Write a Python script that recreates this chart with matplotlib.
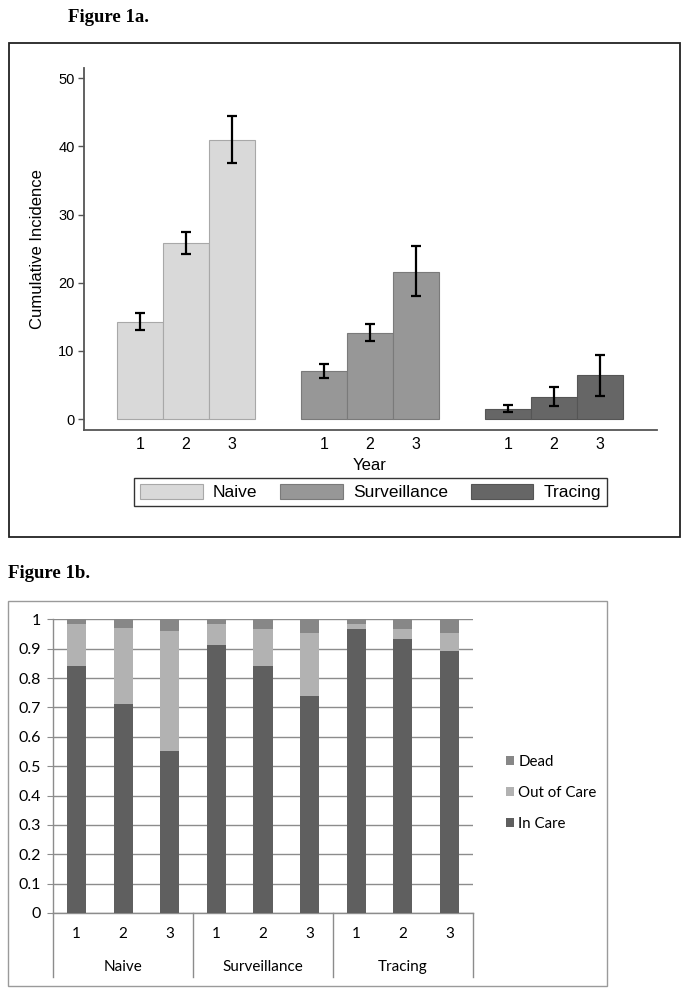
import matplotlib.pyplot as plt
import matplotlib.transforms as mtransforms
from matplotlib.patches import Rectangle, Patch
import numpy as np

# ---- Figure 1a data ----
groups = ['Naive', 'Surveillance', 'Tracing']
years = ['1', '2', '3']
incidence = {
    'Naive': [14.2, 25.9, 41.0],
    'Surveillance': [7.1, 12.65, 21.6],
    'Tracing': [1.42, 3.27, 6.4],
}
ci_low = {
    'Naive': [13.0, 24.2, 37.5],
    'Surveillance': [6.1, 11.5, 18.1],
    'Tracing': [1.0, 1.95, 3.4],
}
ci_high = {
    'Naive': [15.6, 27.5, 44.4],
    'Surveillance': [8.1, 13.9, 25.4],
    'Tracing': [2.0, 4.7, 9.4],
}
colors_a = {'Naive': '#d9d9d9', 'Surveillance': '#979797', 'Tracing': '#666666'}
edges_a = {'Naive': '#a8a8a8', 'Surveillance': '#7a7a7a', 'Tracing': '#555555'}

# ---- Figure 1b data ----
in_care = [0.84, 0.711, 0.55, 0.9125, 0.84, 0.739, 0.968, 0.933, 0.891]
out_of_care = [0.145, 0.261, 0.411, 0.0715, 0.127, 0.216, 0.017, 0.033, 0.064]
dead = [1 - a - b for a, b in zip(in_care, out_of_care)]
colors_b = {'In Care': '#5f5f5f', 'Out of Care': '#b2b2b2', 'Dead': '#878787'}

W, H = 689, 994
fig = plt.figure(figsize=(W / 100, H / 100), dpi=100)


def fx(px):
    return px / W


def fy(py):
    return 1 - py / H


# titles
fig.text(fx(68), fy(18), 'Figure 1a.', family='Liberation Serif', weight='bold',
         fontsize=13.5, va='center', ha='left')
fig.text(fx(8), fy(573), 'Figure 1b.', family='Liberation Serif', weight='bold',
         fontsize=13.5, va='center', ha='left')

# frames
fig.patches.append(Rectangle((fx(9), fy(537)), fx(680) - fx(9), fy(43) - fy(537),
                             transform=fig.transFigure, fill=False,
                             edgecolor='#222222', linewidth=1.3))
fig.patches.append(Rectangle((fx(8), fy(986)), fx(607) - fx(8), fy(601) - fy(986),
                             transform=fig.transFigure, fill=False,
                             edgecolor='#9a9a9a', linewidth=1.0))

# ================= Figure 1a =================
ax1 = fig.add_axes([fx(84), fy(430), fx(657) - fx(84), fy(68) - fy(430)])
ax1.set_xlim(-2.217, 10.24)
ax1.set_ylim(-1.6, 51.5)
ax1.spines['top'].set_visible(False)
ax1.spines['right'].set_visible(False)
for s in ['left', 'bottom']:
    ax1.spines[s].set_color('#555555')
    ax1.spines[s].set_linewidth(1.3)

xt = []
xl = []
for g, name in enumerate(groups):
    pos = np.arange(3) + g * 4 - 1
    vals = np.array(incidence[name])
    lo = vals - np.array(ci_low[name])
    hi = np.array(ci_high[name]) - vals
    ax1.bar(pos, vals, width=1.0, color=colors_a[name], edgecolor=edges_a[name],
            linewidth=0.8, label=name)
    ax1.errorbar(pos, vals, yerr=[lo, hi], fmt='none', ecolor='black',
                 elinewidth=1.6, capsize=3.8, capthick=1.6)
    xt.extend(pos)
    xl.extend(years)

ax1.set_xticks(xt)
ax1.set_xticklabels(xl, family='Liberation Sans', fontsize=11.5)
ax1.tick_params(axis='x', length=0, pad=5)
ax1.set_yticks([0, 10, 20, 30, 40, 50])
ax1.set_yticklabels(['0', '10', '20', '30', '40', '50'], family='Liberation Sans', fontsize=10.5)
ax1.tick_params(axis='y', length=4.3, width=1.0, color='#555555', pad=2.5)

fig.text(fx(370), fy(465), 'Year', family='Liberation Sans', fontsize=12,
         ha='center', va='center')
fig.text(fx(38), fy(249), 'Cumulative Incidence', family='Liberation Sans', fontsize=12,
         ha='center', va='center', rotation=90)

h1 = [Patch(facecolor=colors_a[n], edgecolor=edges_a[n], linewidth=0.8) for n in groups]
leg1 = fig.legend(h1, groups, loc='center', bbox_to_anchor=(fx(370.5), fy(492)),
                  ncol=3, frameon=True, fancybox=False, edgecolor='black',
                  prop={'family': 'Liberation Sans', 'size': 12.5},
                  handlelength=3.6, handleheight=0.95, handletextpad=0.6,
                  columnspacing=1.3, borderpad=0.35)
leg1.get_frame().set_linewidth(1.0)

# ================= Figure 1b =================
ax2 = fig.add_axes([fx(53.3), fy(913), fx(472.7) - fx(53.3), fy(619.3) - fy(913)])
ax2.set_xlim(-0.5, 8.5)
ax2.set_ylim(0, 1)
xs = np.arange(9)
bw = 0.41
ax2.bar(xs, in_care, width=bw, color=colors_b['In Care'], label='In Care', zorder=3)
ax2.bar(xs, out_of_care, width=bw, bottom=in_care, color=colors_b['Out of Care'],
        label='Out of Care', zorder=3)
ax2.bar(xs, dead, width=bw, bottom=np.array(in_care) + np.array(out_of_care),
        color=colors_b['Dead'], label='Dead', zorder=3)

for s in ['top', 'right']:
    ax2.spines[s].set_visible(False)
for s in ['left', 'bottom']:
    ax2.spines[s].set_color('#8c8c8c')
    ax2.spines[s].set_linewidth(1.0)
ax2.set_yticks(np.round(np.arange(0, 1.01, 0.1), 1))
ax2.set_yticklabels(['0', '0.1', '0.2', '0.3', '0.4', '0.5', '0.6', '0.7', '0.8', '0.9', '1'],
                    family='Lato', fontsize=11.5)
ax2.tick_params(axis='y', length=4, color='#8c8c8c', pad=5)
ax2.yaxis.grid(True, color='#8c8c8c', linewidth=1.0, zorder=0)
ax2.set_xticks([])

trans = mtransforms.blended_transform_factory(ax2.transData, ax2.transAxes)
for xb in [-0.5, 2.5, 5.5, 8.5]:
    ax2.plot([xb, xb], [0, -0.218], transform=trans, color='#8c8c8c',
             linewidth=1.0, clip_on=False)
sub_labels = years * 3
for x, lab in zip(xs, sub_labels):
    ax2.text(x, -0.072, lab, transform=trans, ha='center', va='center',
             family='Lato', fontsize=11)
for g, name in enumerate(groups):
    ax2.text(g * 3 + 1, -0.184, name, transform=trans, ha='center', va='center',
             family='Lato', fontsize=11)

h2 = [Patch(facecolor=colors_b[n]) for n in ['Dead', 'Out of Care', 'In Care']]
fig.legend(h2, ['Dead', 'Out of Care', 'In Care'], loc='center left',
           bbox_to_anchor=(fx(492), fy(793)), frameon=False,
           prop={'family': 'Lato', 'size': 10.8},
           handlelength=0.55, handleheight=0.55, handletextpad=0.3, labelspacing=1.15)

fig.savefig('out.png', dpi=100)
